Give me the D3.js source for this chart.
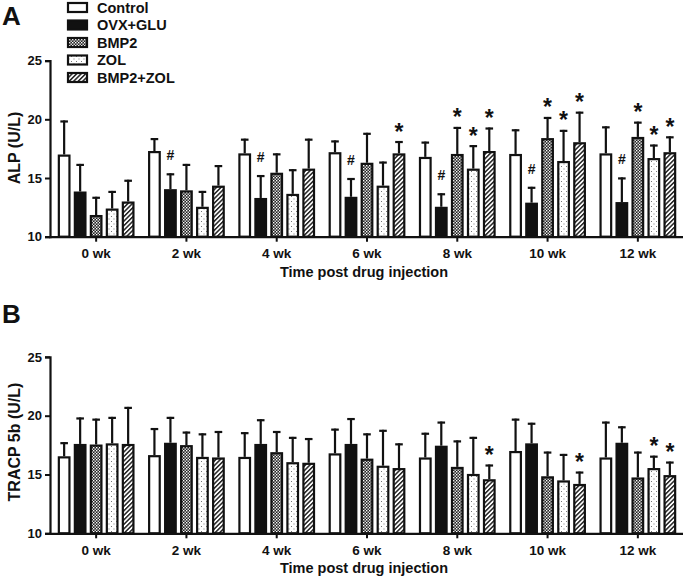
<!DOCTYPE html>
<html>
<head>
<meta charset="utf-8">
<script src="https://cdn.jsdelivr.net/npm/d3@7"></script>
<style>
  html, body { margin: 0; padding: 0; background: #fff; }
  svg { display: block; }
  text { font-family: "Liberation Sans", Arial, sans-serif; font-weight: bold; fill: #111; }
</style>
</head>
<body>
<svg id="chart" width="685" height="579"></svg>
<script>
// ---------------- DATA ----------------
const groups = ["0 wk", "2 wk", "4 wk", "6 wk", "8 wk", "10 wk", "12 wk"];
const seriesNames = ["Control", "OVX+GLU", "BMP2", "ZOL", "BMP2+ZOL"];

// Panel A: ALP (U/L) means
const alpControl = [17.0, 17.3, 17.1, 17.2, 16.8, 17.05, 17.1];
const alpOvx     = [13.85, 14.05, 13.3, 13.4, 12.55, 12.9, 12.95];
const alpBmp2    = [11.85, 13.95, 15.45, 16.3, 17.05, 18.4, 18.5];
const alpZol     = [12.4, 12.55, 13.65, 14.35, 15.8, 16.45, 16.7];
const alpBmp2Zol = [13.0, 14.35, 15.8, 17.1, 17.3, 18.05, 17.2];
// Panel A: SD (upper error bar)
const alpControlSD = [2.9, 1.1, 1.25, 1.0, 1.3, 2.1, 2.3];
const alpOvxSD     = [2.35, 1.35, 1.95, 1.6, 1.15, 1.35, 2.1];
const alpBmp2SD    = [1.55, 2.25, 1.65, 2.55, 2.3, 1.8, 1.3];
const alpZolSD     = [1.5, 1.35, 2.1, 2.05, 2.0, 2.65, 1.15];
const alpBmp2ZolSD = [1.85, 1.75, 2.55, 1.05, 2.0, 2.6, 1.35];
// Panel A: significance marks
const alpControlMark = ["", "", "", "", "", "", ""];
const alpOvxMark     = ["", "#", "#", "#", "#", "#", "#"];
const alpBmp2Mark    = ["", "", "", "", "*", "*", "*"];
const alpZolMark     = ["", "", "", "", "*", "*", "*"];
const alpBmp2ZolMark = ["", "", "", "*", "*", "*", "*"];

// Panel B: TRACP 5b (U/L) means
const trControl = [16.55, 16.65, 16.5, 16.8, 16.45, 17.0, 16.45];
const trOvx     = [17.6, 17.7, 17.6, 17.6, 17.45, 17.65, 17.7];
const trBmp2    = [17.55, 17.5, 16.9, 16.35, 15.65, 14.85, 14.75];
const trZol     = [17.65, 16.5, 16.05, 15.75, 15.05, 14.5, 15.55];
const trBmp2Zol = [17.6, 16.45, 16.0, 15.55, 14.6, 14.2, 14.95];
// Panel B: SD
const trControlSD = [1.2, 2.3, 2.1, 2.1, 2.1, 2.75, 3.05];
const trOvxSD     = [2.25, 2.2, 2.1, 2.2, 2.05, 1.75, 1.4];
const trBmp2SD    = [2.2, 1.15, 1.8, 2.15, 2.25, 2.1, 2.2];
const trZolSD     = [2.25, 2.0, 2.15, 3.05, 3.15, 2.25, 1.05];
const trBmp2ZolSD = [3.15, 2.25, 2.1, 2.1, 1.25, 1.05, 1.15];
// Panel B: significance marks
const trControlMark = ["", "", "", "", "", "", ""];
const trOvxMark     = ["", "", "", "", "", "", ""];
const trBmp2Mark    = ["", "", "", "", "", "", ""];
const trZolMark     = ["", "", "", "", "", "", "*"];
const trBmp2ZolMark = ["", "", "", "", "*", "*", "*"];

const yTicks = [10, 15, 20, 25];
const xTitle = "Time post drug injection";

// ---------------- DRAW ----------------
const svg = d3.select("#chart");
const defs = svg.append("defs");

// patterns
const pBmp2 = defs.append("pattern").attr("id", "pBmp2")
  .attr("patternUnits", "userSpaceOnUse").attr("width", 3).attr("height", 3);
pBmp2.append("rect").attr("width", 3).attr("height", 3).attr("fill", "#222");
pBmp2.append("rect").attr("x", 0).attr("y", 0).attr("width", 1.4).attr("height", 1.4).attr("fill", "#fff");
pBmp2.append("rect").attr("x", 1.5).attr("y", 1.5).attr("width", 1.4).attr("height", 1.4).attr("fill", "#eee");

const pZol = defs.append("pattern").attr("id", "pZol")
  .attr("patternUnits", "userSpaceOnUse").attr("width", 5).attr("height", 5);
pZol.append("rect").attr("width", 5).attr("height", 5).attr("fill", "#fff");
pZol.append("rect").attr("x", 1).attr("y", 1).attr("width", 1).attr("height", 1).attr("fill", "#777");
pZol.append("rect").attr("x", 3.5).attr("y", 3.5).attr("width", 1).attr("height", 1).attr("fill", "#777");

const pHatch = defs.append("pattern").attr("id", "pHatch")
  .attr("patternUnits", "userSpaceOnUse").attr("width", 3.2).attr("height", 3.2)
  .attr("patternTransform", "rotate(45)");
pHatch.append("rect").attr("width", 3.2).attr("height", 3.2).attr("fill", "#fff");
pHatch.append("rect").attr("width", 1.5).attr("height", 3.2).attr("fill", "#222");

const fills = ["#fff", "#111", "url(#pBmp2)", "url(#pZol)", "url(#pHatch)"];

const x0 = d3.scaleBand().domain(groups).range([51, 683]).paddingInner(0.114).paddingOuter(0.057);
const x1 = d3.scaleBand().domain(seriesNames).range([0, x0.bandwidth()]).paddingInner(0.2).paddingOuter(0.1);

function drawPanel(cfg) {
  const g = svg.append("g");
  const y = d3.scaleLinear().domain([10, 25]).range([cfg.base, cfg.top]);

  const rows = [];
  seriesNames.forEach((s, si) => {
    groups.forEach((grp, gi) => {
      rows.push({ s, si, grp, v: cfg.means[si][gi], sd: cfg.sds[si][gi], mark: cfg.marks[si][gi] });
    });
  });

  // error bars (behind bars)
  const eb = g.append("g");
  rows.forEach(d => {
    const cx = x0(d.grp) + x1(d.s) + x1.bandwidth() / 2;
    const yTop = y(d.v + d.sd);
    eb.append("line").attr("x1", cx).attr("x2", cx).attr("y1", y(d.v)).attr("y2", yTop)
      .attr("stroke", "#111").attr("stroke-width", 2.2);
    eb.append("line").attr("x1", cx - 3.8).attr("x2", cx + 3.8).attr("y1", yTop + 1).attr("y2", yTop + 1)
      .attr("stroke", "#111").attr("stroke-width", 2.2);
  });

  // bars
  g.append("g").selectAll("rect").data(rows).join("rect")
    .attr("x", d => x0(d.grp) + x1(d.s) + 1.1)
    .attr("y", d => y(d.v) + 1.1)
    .attr("width", x1.bandwidth() - 2.2)
    .attr("height", d => y(10) - y(d.v) - 1.1)
    .attr("fill", d => fills[d.si])
    .attr("stroke", "#111").attr("stroke-width", 2.2);

  // marks
  g.append("g").selectAll("text").data(rows.filter(d => d.mark)).join("text")
    .attr("x", d => x0(d.grp) + x1(d.s) + x1.bandwidth() / 2)
    .attr("y", d => d.mark === "#" ? y(d.v + d.sd) - 13 : y(d.v + d.sd) - 1.5)
    .attr("text-anchor", "middle")
    .style("font-size", d => d.mark === "#" ? "14px" : "23px")
    .text(d => d.mark);

  // y axis
  const ya = g.append("g").attr("transform", "translate(50,0)")
    .call(d3.axisLeft(y).tickValues(yTicks).tickSize(5).tickPadding(3));
  ya.select(".domain").attr("stroke", "#111").attr("stroke-width", 2.2);
  ya.selectAll(".tick line").attr("stroke", "#111").attr("stroke-width", 2);
  ya.selectAll(".tick text").style("font-size", "13px").style("font-family", "'Liberation Sans', Arial, sans-serif")
    .style("font-weight", "bold").attr("fill", "#111");

  // x axis
  const xa = g.append("g").attr("transform", `translate(0,${cfg.base})`)
    .call(d3.axisBottom(x0).tickSize(5).tickPadding(7).tickSizeOuter(0));
  xa.select(".domain").attr("d", `M49,0.5H683`).attr("stroke", "#111").attr("stroke-width", 2.2);
  xa.selectAll(".tick line").attr("stroke", "#111").attr("stroke-width", 2);
  xa.selectAll(".tick text").style("font-size", "13.5px").style("font-family", "'Liberation Sans', Arial, sans-serif")
    .style("font-weight", "bold").attr("fill", "#111");

  // x title
  g.append("text").attr("x", 364).attr("y", cfg.base + 40).attr("text-anchor", "middle")
    .style("font-size", "14.5px").text(xTitle);

  // y title
  g.append("text").attr("transform", `translate(20,${cfg.yTitleY}) rotate(-90)`)
    .attr("text-anchor", "middle").style("font-size", "16px").text(cfg.yTitle);

  // panel letter
  g.append("text").attr("x", 2).attr("y", cfg.letterY).style("font-size", "26px").text(cfg.letter);
}

drawPanel({
  letter: "A", letterY: 25, base: 236.7, top: 60.6, yTitle: "ALP (U/L)", yTitleY: 148,
  means: [alpControl, alpOvx, alpBmp2, alpZol, alpBmp2Zol],
  sds: [alpControlSD, alpOvxSD, alpBmp2SD, alpZolSD, alpBmp2ZolSD],
  marks: [alpControlMark, alpOvxMark, alpBmp2Mark, alpZolMark, alpBmp2ZolMark]
});
drawPanel({
  letter: "B", letterY: 323, base: 533.3, top: 356.9, yTitle: "TRACP 5b (U/L)", yTitleY: 442,
  means: [trControl, trOvx, trBmp2, trZol, trBmp2Zol],
  sds: [trControlSD, trOvxSD, trBmp2SD, trZolSD, trBmp2ZolSD],
  marks: [trControlMark, trOvxMark, trBmp2Mark, trZolMark, trBmp2ZolMark]
});

// legend
const legend = svg.append("g");
const legY = d3.scalePoint().domain(seriesNames).range([7.5, 77.5]);
seriesNames.forEach((s, i) => {
  legend.append("rect").attr("x", 68).attr("y", legY(s) - 4.5).attr("width", 19).attr("height", 9)
    .attr("fill", fills[i]).attr("stroke", "#111").attr("stroke-width", 2.2);
  legend.append("text").attr("x", 97).attr("y", legY(s) + 5).style("font-size", "14.5px").text(s);
});
</script>
</body>
</html>
